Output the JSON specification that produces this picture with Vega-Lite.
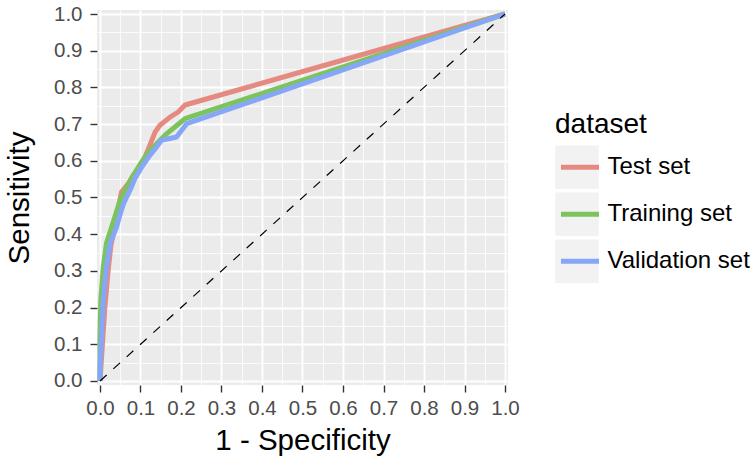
{
  "$schema": "https://vega.github.io/schema/vega-lite/v6.json",
  "width": 411,
  "height": 375,
  "autosize": {"type": "none"},
  "padding": {"left": 97, "top": 10, "right": 243, "bottom": 74},
  "background": "white",
  "config": {
    "view": {"fill": "#EBEBEB", "stroke": null},
    "font": "Liberation Sans",
    "axis": {
      "domain": false,
      "gridColor": "white",
      "gridWidth": 1.8,
      "tickColor": "#333333",
      "tickWidth": 1.4,
      "tickSize": 7,
      "labelFontSize": 20.5,
      "labelColor": "#4D4D4D",
      "labelFont": "Liberation Sans",
      "titleFont": "Liberation Sans",
      "titleFontSize": 29.5,
      "titleFontWeight": "normal",
      "titleColor": "black",
      "labelFlush": false,
      "labelOverlap": false
    },
    "axisX": {"labelPadding": 6, "titlePadding": 8},
    "axisY": {"labelPadding": 8, "titlePadding": 19},
    "legend": {
      "padding": 0,
      "titleFont": "Liberation Sans",
      "labelFont": "Liberation Sans",
      "titleFontSize": 28,
      "titleFontWeight": "normal",
      "titleColor": "black",
      "labelFontSize": 24,
      "labelColor": "black",
      "titlePadding": 5,
      "clipHeight": 46.5,
      "rowPadding": 0
    }
  },
  "datasets": {
    "roc": [
      {"dataset": "Test set", "fpr": 0, "tpr": 0},
      {"dataset": "Test set", "fpr": 0.006, "tpr": 0.1},
      {"dataset": "Test set", "fpr": 0.012, "tpr": 0.2},
      {"dataset": "Test set", "fpr": 0.02, "tpr": 0.3},
      {"dataset": "Test set", "fpr": 0.027, "tpr": 0.37},
      {"dataset": "Test set", "fpr": 0.035, "tpr": 0.41},
      {"dataset": "Test set", "fpr": 0.045, "tpr": 0.47},
      {"dataset": "Test set", "fpr": 0.053, "tpr": 0.515},
      {"dataset": "Test set", "fpr": 0.07, "tpr": 0.538},
      {"dataset": "Test set", "fpr": 0.082, "tpr": 0.56},
      {"dataset": "Test set", "fpr": 0.095, "tpr": 0.579},
      {"dataset": "Test set", "fpr": 0.111, "tpr": 0.61},
      {"dataset": "Test set", "fpr": 0.123, "tpr": 0.642},
      {"dataset": "Test set", "fpr": 0.136, "tpr": 0.678},
      {"dataset": "Test set", "fpr": 0.148, "tpr": 0.697},
      {"dataset": "Test set", "fpr": 0.173, "tpr": 0.719},
      {"dataset": "Test set", "fpr": 0.193, "tpr": 0.733},
      {"dataset": "Test set", "fpr": 0.21, "tpr": 0.752},
      {"dataset": "Test set", "fpr": 1, "tpr": 1},
      {"dataset": "Training set", "fpr": 0, "tpr": 0},
      {"dataset": "Training set", "fpr": 0, "tpr": 0.12},
      {"dataset": "Training set", "fpr": 0.002, "tpr": 0.22},
      {"dataset": "Training set", "fpr": 0.008, "tpr": 0.31},
      {"dataset": "Training set", "fpr": 0.016, "tpr": 0.375},
      {"dataset": "Training set", "fpr": 0.029, "tpr": 0.42},
      {"dataset": "Training set", "fpr": 0.049, "tpr": 0.49},
      {"dataset": "Training set", "fpr": 0.066, "tpr": 0.529},
      {"dataset": "Training set", "fpr": 0.082, "tpr": 0.56},
      {"dataset": "Training set", "fpr": 0.103, "tpr": 0.597},
      {"dataset": "Training set", "fpr": 0.12, "tpr": 0.624},
      {"dataset": "Training set", "fpr": 0.144, "tpr": 0.651},
      {"dataset": "Training set", "fpr": 0.165, "tpr": 0.674},
      {"dataset": "Training set", "fpr": 0.185, "tpr": 0.692},
      {"dataset": "Training set", "fpr": 0.21, "tpr": 0.715},
      {"dataset": "Training set", "fpr": 1, "tpr": 1},
      {"dataset": "Validation set", "fpr": 0, "tpr": 0},
      {"dataset": "Validation set", "fpr": 0, "tpr": 0.04},
      {"dataset": "Validation set", "fpr": 0.004, "tpr": 0.13},
      {"dataset": "Validation set", "fpr": 0.008, "tpr": 0.22},
      {"dataset": "Validation set", "fpr": 0.016, "tpr": 0.31},
      {"dataset": "Validation set", "fpr": 0.025, "tpr": 0.375},
      {"dataset": "Validation set", "fpr": 0.041, "tpr": 0.42},
      {"dataset": "Validation set", "fpr": 0.049, "tpr": 0.452},
      {"dataset": "Validation set", "fpr": 0.058, "tpr": 0.483},
      {"dataset": "Validation set", "fpr": 0.074, "tpr": 0.52},
      {"dataset": "Validation set", "fpr": 0.086, "tpr": 0.551},
      {"dataset": "Validation set", "fpr": 0.103, "tpr": 0.583},
      {"dataset": "Validation set", "fpr": 0.123, "tpr": 0.615},
      {"dataset": "Validation set", "fpr": 0.14, "tpr": 0.638},
      {"dataset": "Validation set", "fpr": 0.152, "tpr": 0.656},
      {"dataset": "Validation set", "fpr": 0.169, "tpr": 0.66},
      {"dataset": "Validation set", "fpr": 0.189, "tpr": 0.665},
      {"dataset": "Validation set", "fpr": 0.198, "tpr": 0.678},
      {"dataset": "Validation set", "fpr": 0.214, "tpr": 0.701},
      {"dataset": "Validation set", "fpr": 1, "tpr": 1}
    ],
    "diag": [
      {"fpr": 0, "tpr": 0},
      {"fpr": 1, "tpr": 1}
    ]
  },
  "layer": [
    {
      "data": {"name": "roc"},
      "transform": [{"filter": "false"}],
      "mark": {"type": "point", "filled": true},
      "encoding": {
        "x": {
          "field": "fpr", "type": "quantitative",
          "scale": {"domain": [-0.0074, 1.0074], "nice": false, "zero": false},
          "axis": {"orient": "bottom", "values": [0.05, 0.15, 0.25, 0.35, 0.45, 0.55, 0.65, 0.75, 0.85, 0.95], "grid": true, "gridWidth": 0.8, "labels": false, "ticks": false, "title": null}
        },
        "y": {
          "field": "tpr", "type": "quantitative",
          "scale": {"domain": [-0.0109, 1.0109], "nice": false, "zero": false},
          "axis": {"orient": "left", "values": [0.05, 0.15, 0.25, 0.35, 0.45, 0.55, 0.65, 0.75, 0.85, 0.95], "grid": true, "gridWidth": 0.8, "labels": false, "ticks": false, "title": null}
        },
        "fill": {
          "field": "dataset", "type": "nominal",
          "scale": {"domain": ["Test set", "Training set", "Validation set"], "range": ["#F2F2F2", "#F2F2F2", "#F2F2F2"]},
          "legend": {
            "orient": "none", "legendX": 458, "legendY": 101, "zindex": 0,
            "title": " ", "titleOpacity": 0, "labelExpr": "''", "labelOpacity": 0,
            "symbolType": "square", "symbolSize": 1892, "symbolStrokeWidth": 0, "symbolOpacity": 1
          }
        }
      }
    },
    {
      "data": {"name": "roc"},
      "mark": {"type": "line", "strokeWidth": 5, "strokeCap": "butt", "strokeJoin": "round"},
      "encoding": {
        "x": {
          "field": "fpr", "type": "quantitative",
          "axis": {"orient": "bottom", "values": [0, 0.1, 0.2, 0.3, 0.4, 0.5, 0.6, 0.7, 0.8, 0.9, 1], "format": ".1f", "grid": true, "title": "1 - Specificity"}
        },
        "y": {
          "field": "tpr", "type": "quantitative",
          "axis": {"orient": "left", "values": [0, 0.1, 0.2, 0.3, 0.4, 0.5, 0.6, 0.7, 0.8, 0.9, 1], "format": ".1f", "grid": true, "title": "Sensitivity"}
        },
        "stroke": {
          "field": "dataset", "type": "nominal",
          "scale": {"range": ["#E58A80", "#7DC35C", "#86A7F7"]},
          "legend": {
            "orient": "none", "legendX": 458, "legendY": 101, "zindex": 1,
            "title": "dataset",
            "symbolType": "stroke", "symbolSize": 1444, "symbolStrokeWidth": 5, "symbolOffset": 3.5,
            "labelOffset": 6
          }
        },
        "order": [{"field": "fpr"}, {"field": "tpr"}]
      }
    },
    {
      "data": {"name": "diag"},
      "mark": {"type": "line", "stroke": "black", "strokeWidth": 1.2, "strokeDash": [9, 9]},
      "encoding": {
        "x": {"field": "fpr", "type": "quantitative", "axis": null},
        "y": {"field": "tpr", "type": "quantitative", "axis": null}
      }
    }
  ],
  "resolve": {"axis": {"x": "independent", "y": "independent"}}
}
